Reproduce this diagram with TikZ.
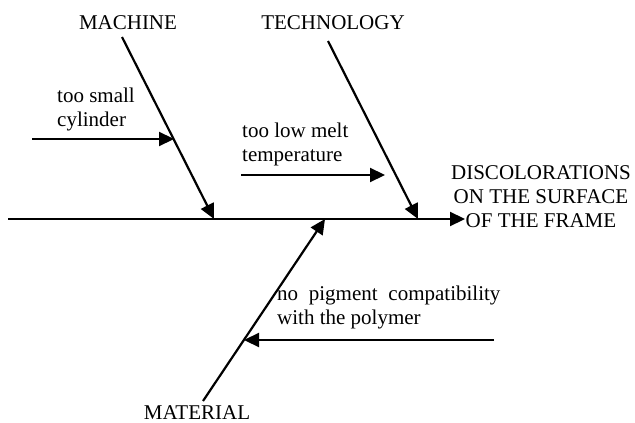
\documentclass[tikz,border=0pt]{standalone}
\usepackage{fontspec}
\setmainfont{Liberation Serif}
\usetikzlibrary{arrows.meta}
\begin{document}
\begin{tikzpicture}[x=1pt,y=-1pt,
  lbl/.style={inner sep=0pt,font=\fontsize{21}{24}\selectfont},
  bone/.style={line width=2.2pt,-{Triangle[length=15pt,width=14pt]}}]
\useasboundingbox (0,0) rectangle (635,423);
% labels
\node[lbl,anchor=base] (mach) at (128,30) {MACHINE};
\node[lbl,anchor=base] (tech) at (333,30) {TECHNOLOGY};
\node[lbl,anchor=base] (mat) at (197,419) {MATERIAL};
\node[lbl,anchor=north,align=center] (eff) at (541,165.5) {DISCOLORATIONS\\ON THE SURFACE\\OF THE FRAME};
\node[lbl,anchor=north west,align=left] (cyl) at (57,87.5) {too small\\cylinder};
\node[lbl,anchor=north west,align=left] (melt) at (242,122.5) {too low melt\\temperature};
\node[lbl,anchor=north west,align=left] (pig) at (277,285.5) {no\hspace{0.51em}pigment\hspace{0.51em}compatibility\\with the polymer};
% coordinates
\coordinate (s0) at (8,219);
\coordinate (s1) at (465,219);
\coordinate (m0) at (122,37);
\coordinate (m1) at (214,219);
\coordinate (t0) at (328,41);
\coordinate (t1) at (418,219);
\coordinate (a0) at (203,401);
\coordinate (a1) at (325,219);
\coordinate (c0) at (32,139);
\coordinate (c1) at (174,139);
\coordinate (l0) at (241,175);
\coordinate (l1) at (385,175);
\coordinate (p0) at (494,340);
\coordinate (p1) at (244,340);
% connectors
\draw[bone] (s0) -- (s1);
\draw[bone] (m0) -- (m1);
\draw[bone] (t0) -- (t1);
\draw[bone] (a0) -- (a1);
\draw[bone] (c0) -- (c1);
\draw[bone] (l0) -- (l1);
\draw[bone] (p0) -- (p1);
\end{tikzpicture}
\end{document}
